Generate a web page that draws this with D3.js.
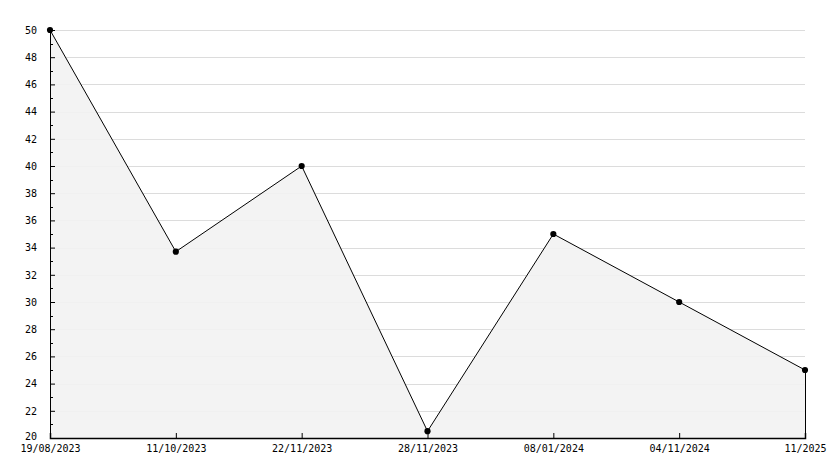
<!DOCTYPE html>
<html>
<head>
<meta charset="utf-8">
<script src="https://cdn.jsdelivr.net/npm/d3@7"></script>
<style>
  body { margin: 0; background: #fff; }
  text { font-family: "DejaVu Sans Mono", monospace; font-size: 10px; fill: #000; }
</style>
</head>
<body>
<div id="chart"></div>
<script>
var dates = ['19/08/2023', '11/10/2023', '22/11/2023', '28/11/2023', '08/01/2024', '04/11/2024', '11/2025'];
var values = [50, 33.7, 40, 20.5, 35, 30, 25];
var y_ticks = d3.range(20, 51, 2);
var y_minor = d3.range(21, 50, 2);

function draw_chart() {
    var width = 834, height = 468;
    var margin = {top: 30, right: 29, bottom: 30, left: 50};
    var plot_w = width - margin.left - margin.right;
    var plot_h = height - margin.top - margin.bottom;

    var svg = d3.select('#chart')
        .append('svg')
        .attr('width', width)
        .attr('height', height);

    var g = svg.append('g')
        .attr('transform', `translate(${margin.left}, ${margin.top})`);

    var x = d3.scalePoint().domain(dates).range([0, plot_w]);
    var y = d3.scaleLinear().domain([20, 50]).range([plot_h, 0]);

    // gridlines
    g.selectAll('.grid')
        .data(y_ticks.filter(d => d > 20))
        .enter()
        .append('line')
        .attr('x1', 0)
        .attr('x2', plot_w)
        .attr('y1', d => Math.round(y(d)) + 0.5)
        .attr('y2', d => Math.round(y(d)) + 0.5)
        .attr('stroke', '#dcdcdc')
        .attr('stroke-width', 1);

    var data = dates.map((d, i) => ({date: d, value: values[i]}));

    // filled area
    var area = d3.area()
        .x(d => x(d.date))
        .y0(plot_h)
        .y1(d => y(d.value));

    g.append('path')
        .datum(data)
        .attr('d', area)
        .attr('fill', '#f2f2f2')
        .attr('fill-opacity', 0.9);

    // line
    var line = d3.line()
        .x(d => x(d.date))
        .y(d => y(d.value));

    g.append('path')
        .datum(data)
        .attr('d', line)
        .attr('fill', 'none')
        .attr('stroke', '#000')
        .attr('stroke-width', 1);

    // right edge of the area
    var last = data[data.length - 1];
    g.append('line')
        .attr('x1', x(last.date) + 0.5)
        .attr('x2', x(last.date) + 0.5)
        .attr('y1', y(last.value))
        .attr('y2', plot_h)
        .attr('stroke', '#000');

    // y axis
    var y_axis = d3.axisLeft(y)
        .tickValues(y_ticks)
        .tickSize(-5)
        .tickPadding(13)
        .tickFormat(d3.format('d'));

    var ya = g.append('g').call(y_axis);
    ya.select('.domain').attr('stroke', '#000');
    ya.selectAll('text')
        .style('font-family', '"DejaVu Sans Mono", monospace')
        .style('font-size', '10px')
        .attr('dy', d => d === 20 ? '0.1em' : '0.32em');

    g.selectAll('.minor')
        .data(y_minor)
        .enter()
        .append('line')
        .attr('x1', 0)
        .attr('x2', 3)
        .attr('y1', d => Math.round(y(d)) + 0.5)
        .attr('y2', d => Math.round(y(d)) + 0.5)
        .attr('stroke', '#000');

    // x axis
    var x_axis = d3.axisBottom(x)
        .tickSize(-5)
        .tickPadding(7);

    var xa = g.append('g')
        .attr('transform', `translate(0, ${plot_h})`)
        .call(x_axis);
    xa.select('.domain').attr('stroke', '#000').attr('stroke-width', 1.5);
    xa.selectAll('text')
        .style('font-family', '"DejaVu Sans Mono", monospace')
        .style('font-size', '10px');

    // markers
    g.selectAll('.marker')
        .data(data)
        .enter()
        .append('path')
        .attr('transform', d => `translate(${x(d.date)}, ${y(d.value)})`)
        .attr('d', d3.symbol().type(d3.symbolCircle).size(30))
        .attr('fill', '#000');
}

draw_chart();
</script>
</body>
</html>
